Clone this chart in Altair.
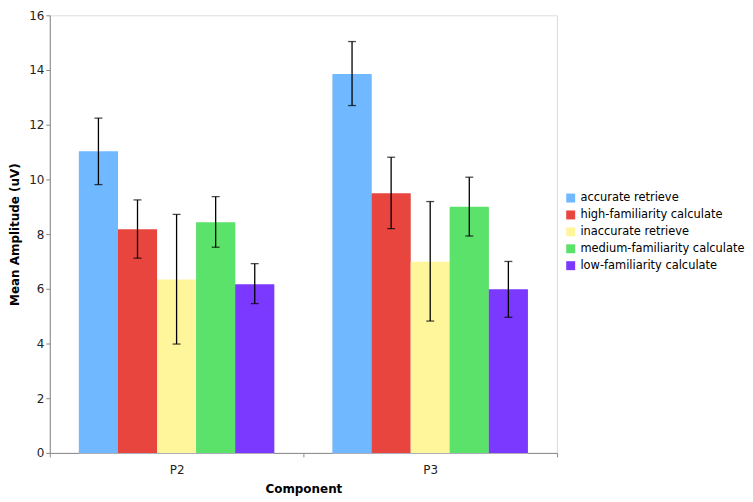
import altair as alt
import pandas as pd

components = ["P2", "P3"]
conditions = [
    "accurate retrieve",
    "high-familiarity calculate",
    "inaccurate retrieve",
    "medium-familiarity calculate",
    "low-familiarity calculate",
]
colors = ["#70B8FF", "#E8453F", "#FFF59B", "#5AE26A", "#7B38FF"]

mean_p2 = [11.03, 8.18, 6.34, 8.43, 6.17]
mean_p3 = [13.85, 9.49, 6.99, 9.00, 5.98]
hi_p2 = [12.24, 9.25, 8.72, 9.37, 6.92]
lo_p2 = [9.81, 7.12, 3.98, 7.52, 5.46]
hi_p3 = [15.04, 10.81, 9.19, 10.08, 7.00]
lo_p3 = [12.70, 8.20, 4.82, 7.93, 4.96]

rows = []
for comp, means, his, los in [("P2", mean_p2, hi_p2, lo_p2), ("P3", mean_p3, hi_p3, lo_p3)]:
    for c, m, h, l in zip(conditions, means, his, los):
        rows.append({"Component": comp, "Condition": c, "Mean": m, "Hi": h, "Lo": l})
df = pd.DataFrame(rows)

FONT = "DejaVu Sans"

x = alt.X(
    "Component:N",
    sort=components,
    scale=alt.Scale(paddingInner=0, paddingOuter=0),
    axis=alt.Axis(
        title="Component",
        labelAngle=0,
        tickBand="extent",
        tickSize=4,
        domainColor="#888888",
        tickColor="#888888",
        labelFont=FONT,
        labelFontSize=12,
        labelColor="#222222",
        labelPadding=8,
        titleFont=FONT,
        titleFontSize=12,
        titleFontWeight="bold",
        titleColor="#000000",
        titlePadding=8,
    ),
)
xoff = alt.XOffset(
    "Condition:N",
    sort=conditions,
    scale=alt.Scale(paddingInner=0, paddingOuter=0.745),
)
y_axis = alt.Axis(
    title="Mean Amplitude (uV)",
    values=list(range(0, 17, 2)),
    grid=False,
    tickSize=4,
    domainColor="#888888",
    tickColor="#888888",
    labelFont=FONT,
    labelFontSize=12,
    labelColor="#222222",
    titleFont=FONT,
    titleFontSize=12,
    titleFontWeight="bold",
    titleColor="#000000",
    titlePadding=7,
)
y = alt.Y("Mean:Q", scale=alt.Scale(domain=[0, 16], nice=False), axis=y_axis)

base = alt.Chart(df)

shadow = base.mark_bar(color="#B8B8C8", opacity=0.75, xOffset=3, yOffset=1).encode(
    x=x, xOffset=xoff, y=y
)

bars = base.mark_bar().encode(
    x=x,
    xOffset=xoff,
    y=y,
    color=alt.Color(
        "Condition:N",
        sort=conditions,
        scale=alt.Scale(domain=conditions, range=colors),
        legend=alt.Legend(
            title=None,
            orient="none",
            legendX=518,
            legendY=178,
            symbolType="square",
            symbolSize=81,
            symbolStrokeWidth=0,
            labelFont=FONT,
            labelFontSize=11.5,
            labelColor="#000000",
            labelLimit=300,
            rowPadding=4,
        ),
    ),
)

err = base.mark_rule(color="#000000", strokeWidth=1.3).encode(
    x=x, xOffset=xoff, y="Hi:Q", y2="Lo:Q"
)
cap_hi = base.mark_tick(color="#000000", thickness=1.3, size=8, orient="horizontal").encode(
    x=x, xOffset=xoff, y="Hi:Q"
)
cap_lo = base.mark_tick(color="#000000", thickness=1.3, size=8, orient="horizontal").encode(
    x=x, xOffset=xoff, y="Lo:Q"
)

chart = (
    alt.layer(shadow, bars, err, cap_hi, cap_lo)
    .properties(width=510, height=440, padding={"left": 0, "top": 0, "right": 0, "bottom": 0})
    .configure_view(stroke="#999999", strokeWidth=1)
    .configure(background="white")
)

chart.save("out.html", embed_options={"renderer": "svg", "actions": False})
